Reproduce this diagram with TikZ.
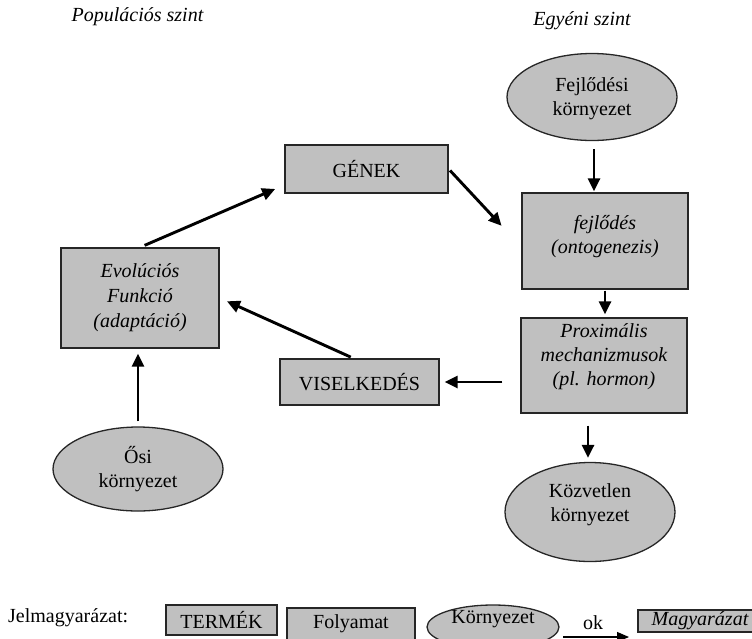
\documentclass[tikz,border=0pt]{standalone}
\usepackage{fontspec}
\setmainfont{Liberation Serif}
\usetikzlibrary{shapes.geometric,arrows.meta,calc}
\definecolor{fillgray}{RGB}{192,192,192}
\tikzset{
  boxn/.style={draw=black!85, line width=1.3pt, fill=fillgray, inner sep=0pt, align=center},
  elln/.style={ellipse, draw=black!85, line width=1.3pt, fill=fillgray, inner sep=0pt},
  txt/.style={align=center, inner sep=0pt},
  arr/.style={line width=2.9pt, -{Triangle[length=13pt,width=12pt]}},
  legarr/.style={line width=1.3pt, -{Triangle[length=12pt,width=10pt]}}
}
\begin{document}
\begin{tikzpicture}[x=1pt,y=-1pt,font=\fontsize{20}{24}\selectfont]
\useasboundingbox (0,0) rectangle (752,638);
\clip (0,0) rectangle (752,638);
% titles
\node[txt,font=\fontsize{20}{24}\selectfont\itshape] (tpop) at (137.5,17) {Populációs szint};
\node[txt,font=\fontsize{20}{24}\selectfont\itshape] (tegy) at (582,21) {Egyéni szint};
% ellipses
\node[elln, minimum width=170, minimum height=87] (fk) at (592,97) {};
\node[txt] (fkt) at (592,99) {Fejlődési\\környezet};
\node[elln, minimum width=170, minimum height=99] (kv) at (590,512) {};
\node[txt] (kvt) at (590,505) {Közvetlen\\környezet};
\node[elln, minimum width=170, minimum height=84] (osi) at (138,469) {};
\node[txt] (osit) at (138,469) {Ősi\\környezet};
% boxes
\node[boxn, minimum width=166, minimum height=96] (fo) at (605,241) {};
\node[txt,font=\fontsize{20}{24}\selectfont\itshape] (fot) at (605,237) {fejlődés\\(ontogenezis)};
\node[boxn, minimum width=166, minimum height=95] (prox) at (604,365.5) {};
\node[txt,font=\fontsize{20}{24}\selectfont\itshape] (proxt) at (604,357) {Proximális\\mechanizmusok\\(pl. hormon)};
\node[boxn, minimum width=163, minimum height=48] (gen) at (366.5,169) {GÉNEK};
\node[boxn, minimum width=159, minimum height=46] (vis) at (359.5,382) {VISELKEDÉS};
\node[boxn, minimum width=158, minimum height=100, font=\fontsize{20}{25}\selectfont\itshape] (evo) at (140,298) {Evolúciós\\Funkció\\(adaptáció)};
% arrows
\draw[arr, shorten <=5pt, shorten >=10pt] (evo.north) -- ([yshift=-16pt]gen.west);
\draw[arr, shorten <=2pt, shorten >=29pt] (gen.east) -- ([yshift=-6pt]fo.west);
\draw[arr, shorten <=8pt, shorten >=1pt] ([xshift=2pt]fk.south) -- ([xshift=2pt]fk.south |- fo.north);
\draw[arr, shorten <=1pt, shorten >=3pt] (fo.south) -- (fo.south |- prox.north);
\draw[arr, shorten <=12pt, shorten >=4pt] ([xshift=-16pt]prox.south) -- ([xshift=-16pt]prox.south |- kv.north);
\draw[arr, shorten <=18pt, shorten >=5pt] (vis.east -| prox.west) -- (vis.east);
\draw[arr, shorten <=3pt, shorten >=8pt] ([xshift=-6pt]vis.north) -- (evo.east);
\draw[arr, shorten <=5pt, shorten >=5pt] (osi.north) -- (osi.north |- evo.south);
% legend
\node[txt, anchor=west] (leg) at (8,618) {Jelmagyarázat:};
\node[boxn, minimum width=111, minimum height=30] (lt) at (221.5,620) {TERMÉK};
\node[boxn, minimum width=128, minimum height=32] (lf) at (351,624) {Folyamat};
\node[elln, minimum width=132, minimum height=44] (le) at (493,627) {};
\node[txt] (let) at (493,619) {Környezet};
\node[txt] (lok) at (593,623) {ok};
\coordinate (oka) at (563,637);
\coordinate (okb) at (629,637);
\draw[legarr] (oka) -- (okb);
\node[boxn, minimum width=124, minimum height=22, font=\fontsize{20}{24}\selectfont\itshape] (lm) at (700,621) {Magyarázat};
\end{tikzpicture}
\end{document}
